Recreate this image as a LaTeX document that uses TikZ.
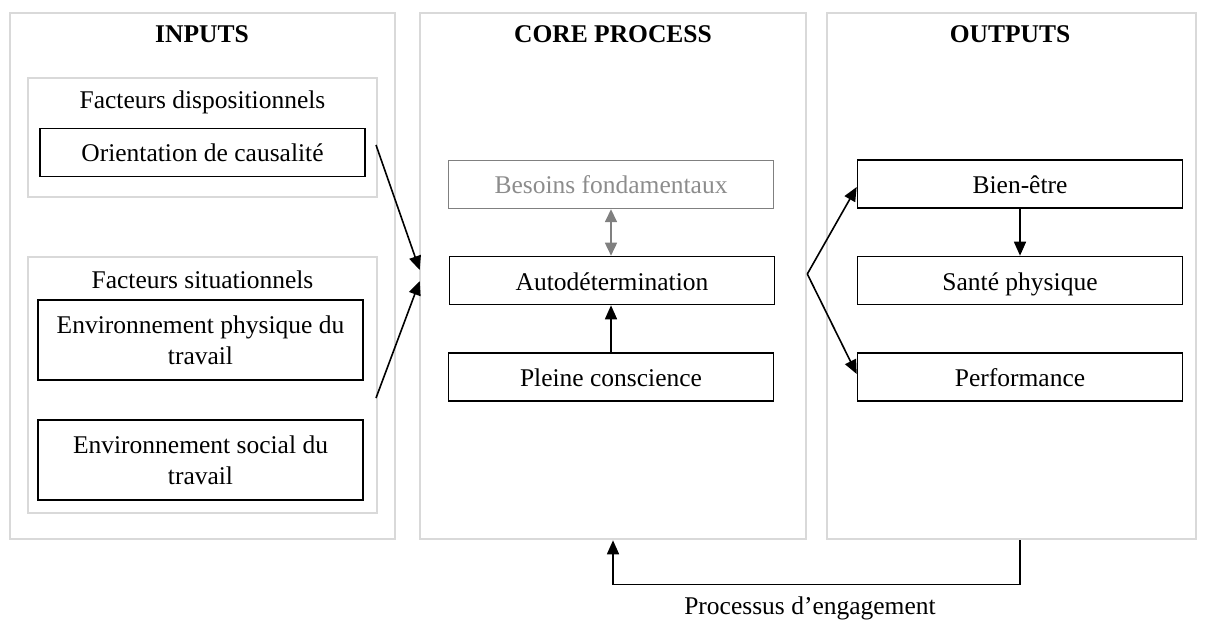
\documentclass[tikz,border=0pt]{standalone}
\usepackage{fontspec}
\setmainfont{Liberation Serif}
\usetikzlibrary{arrows.meta,calc}
\definecolor{panelgray}{RGB}{217,217,217}
\definecolor{softgray}{RGB}{128,128,128}
\definecolor{softtext}{RGB}{140,140,140}
\begin{document}
\begin{tikzpicture}[x=1pt,y=-1pt,
  font=\fontsize{25.5}{30}\selectfont,
  panel/.style={draw=panelgray,line width=2.6pt,inner sep=0pt},
  box/.style={draw=black,line width=1.6pt,inner sep=0pt,align=center,
    text height=22pt,text depth=3pt,
    minimum width=325pt,minimum height=48pt},
  tallbox/.style={draw=black,line width=1.6pt,inner sep=0pt,align=center,
    minimum width=325pt,minimum height=80pt,font=\fontsize{25.5}{31}\selectfont},
  softbox/.style={box,draw=softgray,text=softtext,line width=1.4pt},
  label/.style={anchor=base,inner sep=0pt},
  title/.style={label,font=\fontsize{25.5}{30}\selectfont\bfseries},
  arr/.style={line width=1.6pt,-{Triangle[length=14pt,width=12pt]}},
  softarr/.style={line width=1.6pt,draw=softgray,
    {Triangle[length=13pt,width=12pt]}-{Triangle[length=13pt,width=12pt]}}
]
\useasboundingbox (0,0) rectangle (1206,620);

% three main panels
\node[panel,minimum width=385pt,minimum height=526pt] (inp)  at (202.5,276) {};
\node[panel,minimum width=386pt,minimum height=526pt] (core) at (613,276) {};
\node[panel,minimum width=369pt,minimum height=526pt] (out)  at (1011.5,276) {};

\node[title] (tinp)  at (202,43) {INPUTS};
\node[title] (tcore) at (613,43) {CORE PROCESS};
\node[title] (tout)  at (1010,43) {OUTPUTS};

% inputs: factor groups
\node[panel,minimum width=349pt,minimum height=119pt] (disp) at (202.5,137.5) {};
\node[label] (tdisp) at (202.5,109) {Facteurs dispositionnels};
\node[box] (orient) at (202.5,152.5) {Orientation de causalité};

\node[panel,minimum width=349pt,minimum height=256pt] (situ) at (202.5,385) {};
\node[label] (tsitu) at (202.5,288) {Facteurs situationnels};
\node[tallbox] (envphys) at (200.5,340) {Environnement physique du\\travail};
\node[tallbox] (envsoc)  at (200.5,460) {Environnement social du\\travail};

% core process
\node[softbox] (besoins) at (611,184.5) {Besoins fondamentaux};
\node[box] (auto)   at (612,280.5) {Autodétermination};
\node[box] (pleine) at (611,377) {Pleine conscience};

% outputs
\node[box] (bien)  at (1020,184) {Bien-être};
\node[box] (sante) at (1020,280.5) {Santé physique};
\node[box] (perf)  at (1020,377) {Performance};

% connectors from the inputs into the core
\coordinate (srcdisp) at (376,145);
\coordinate (srcsitu) at (376,398);
\draw[arr] (srcdisp) -- ($(core.west)+(1,-6)$);
\draw[arr] (srcsitu) -- ($(core.west)+(1,5)$);

% connectors inside the core
\draw[softarr] (besoins.south) -- (besoins.south |- auto.north);
\draw[arr] (pleine.north -| besoins.south) -- (auto.south -| besoins.south);

% branching out of the core
\coordinate (branch) at ($(core.east)+(0,-2)$);
\draw[arr] (branch) -- ($(bien.west)+(0,3)$);
\draw[arr] (branch) -- ($(perf.west)+(0,-3)$);
\draw[arr] (bien.south) -- (sante.north);

% engagement feedback loop
\draw[arr] (sante.south |- out.south) -- ++(0,44) -| (core.south);
\node[label] (teng) at (810,614) {Processus d’engagement};
\end{tikzpicture}
\end{document}
